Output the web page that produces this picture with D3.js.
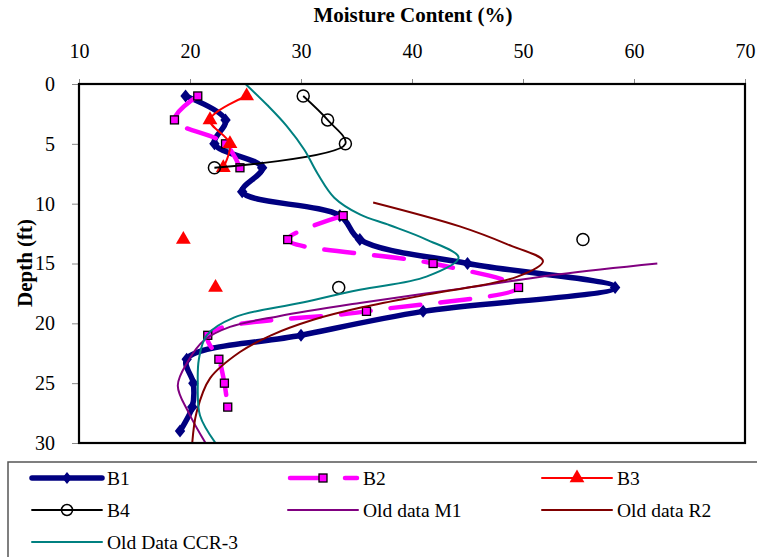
<!DOCTYPE html>
<html>
<head>
<meta charset="utf-8">
<script src="https://cdn.jsdelivr.net/npm/d3@7"></script>
<style>
  html, body { margin: 0; padding: 0; background: #fff; }
  svg { display: block; }
  text { font-family: "Liberation Serif", "Times New Roman", serif; fill: #000; }
</style>
</head>
<body>
<svg id="chart" width="757" height="557"></svg>
<script>
// Boring depths (ft) sampled every 2 ft
const depths = [1, 3, 5, 7, 9, 11, 13, 15, 17, 19, 21, 23, 25, 27, 29];

// Moisture content (%) per boring; null = no sample at that depth
const b1 = [19.6, 23.2, 22.2, 26.5, 24.7, 33.5, 35.3, 45.0, 58.3, 41.0, 30.0, 19.7, 20.3, 20.2, 19.1];
const b2 = [20.7, 18.6, 23.2, 24.5, null, 33.8, 28.8, 41.9, 49.6, 35.9, 21.6, 22.6, 23.1, 23.4, null];
const b3 = [25.1, 21.8, 23.6, 23.0, null, null, 19.4, null, 22.3, null, null, null, null, null, null];
const b4 = [30.2, 32.4, 34.0, 22.2, null, null, 55.4, null, 33.4, null, null, null, null, null, null];

// Older profiles, [moisture %, depth ft]
const oldM1 = [[62.1, 15], [53.3, 15.9], [44.4, 17.1], [35.3, 18.3], [28.0, 19.4], [23.6, 20.3],
               [21.3, 21.4], [19.8, 23.2], [18.9, 25.2], [19.9, 27.5], [21.4, 30]];
const oldR2 = [[36.5, 9.9], [44.3, 11.9], [48.6, 13.4], [51.8, 14.8], [49.5, 16.1], [41.3, 17.6],
               [35.3, 18.7], [31.1, 19.7], [27.3, 21.0], [24.5, 22.4], [21.8, 24.6], [20.6, 27.4], [20.2, 30]];
const oldCCR3 = [[25.0, 0], [27.0, 1.8], [28.7, 3.5], [30.3, 5.5], [31.5, 7.5], [33.0, 9.5], [35.3, 10.9],
                 [38.0, 11.8], [41.3, 13.0], [44.2, 14.5], [41.3, 16.1], [35.3, 17.2], [29.9, 18.3],
                 [24.0, 19.5], [21.5, 21.0], [20.8, 23.0], [20.7, 25.0], [20.9, 27.7], [22.3, 30]];

const xTicks = [10, 20, 30, 40, 50, 60, 70];
const yTicks = [0, 5, 10, 15, 20, 25, 30];

const svg = d3.select("#chart");
const plotLeft = 79, plotRight = 745, plotTop = 84, plotBottom = 443;

const x = d3.scaleLinear().domain([10, 70]).range([plotLeft, plotRight]);
const y = d3.scaleLinear().domain([0, 30]).range([plotTop, plotBottom]);

// Axes: moisture on top, depth downward on the left
const xAxis = svg.append("g").attr("transform", `translate(0,${plotTop})`)
  .call(d3.axisTop(x).tickValues(xTicks).tickSize(5).tickPadding(21).tickFormat(d3.format("d")));
xAxis.select(".domain").remove();
xAxis.selectAll("line").attr("stroke", "#888");
xAxis.selectAll("text").style("font-size", "20px").style("font-family", "Liberation Serif");

const yAxis = svg.append("g").attr("transform", `translate(${plotLeft},0)`)
  .call(d3.axisLeft(y).tickValues(yTicks).tickSize(7).tickPadding(17).tickFormat(d3.format("d")));
yAxis.select(".domain").remove();
yAxis.selectAll("line").attr("stroke", "#888");
yAxis.selectAll("text").style("font-size", "20px").style("font-family", "Liberation Serif");

const plot = svg.append("g");
plot.append("defs").append("clipPath").attr("id", "clip")
  .append("rect").attr("x", plotLeft).attr("y", plotTop)
  .attr("width", plotRight - plotLeft).attr("height", plotBottom - plotTop);
const layer = plot.append("g").attr("clip-path", "url(#clip)");

const smooth = d3.curveCatmullRom.alpha(0.5);

function series(values) {
  return depths.map((d, i) => ({ v: values[i], d }));
}

const lineB = d3.line()
  .defined(p => p.v != null)
  .x(p => x(p.v)).y(p => y(p.d)).curve(smooth);

const lineOld = d3.line().x(p => x(p[0])).y(p => y(p[1])).curve(smooth);

const diamond = (s) => `M0,${-s}L${s * 0.8},0L0,${s}L${-s * 0.8},0Z`;

// B1
const s1 = series(b1);
layer.append("path").attr("d", lineB(s1)).attr("fill", "none").attr("stroke", "#000080")
  .attr("stroke-width", 5.5).attr("stroke-linejoin", "round");
layer.selectAll(".m1").data(s1.filter(p => p.v != null)).join("path")
  .attr("d", diamond(6.5)).attr("fill", "#000080")
  .attr("transform", p => `translate(${x(p.v)},${y(p.d)})`);

// B2
const s2 = series(b2);
layer.append("path").attr("d", lineB(s2)).attr("fill", "none").attr("stroke", "#FF00FF")
  .attr("stroke-width", 4.5).attr("stroke-dasharray", "30,20").attr("stroke-linecap", "round");
layer.selectAll(".m2").data(s2.filter(p => p.v != null)).join("rect")
  .attr("x", p => x(p.v) - 4).attr("y", p => y(p.d) - 4).attr("width", 8).attr("height", 8)
  .attr("fill", "#FF00FF").attr("stroke", "#000").attr("stroke-width", 1.3);

// B3
const s3 = series(b3);
layer.append("path").attr("d", lineB(s3)).attr("fill", "none").attr("stroke", "#FF0000").attr("stroke-width", 2);
layer.selectAll(".m3").data(s3.filter(p => p.v != null)).join("path")
  .attr("d", d3.symbol(d3.symbolTriangle, 95)()).attr("fill", "#FF0000")
  .attr("transform", p => `translate(${x(p.v)},${y(p.d)})`);

// B4
const s4 = series(b4);
layer.append("path").attr("d", lineB(s4)).attr("fill", "none").attr("stroke", "#000").attr("stroke-width", 1.8);
layer.selectAll(".m4").data(s4.filter(p => p.v != null)).join("circle")
  .attr("cx", p => x(p.v)).attr("cy", p => y(p.d)).attr("r", 6)
  .attr("fill", "none").attr("stroke", "#000").attr("stroke-width", 1.5);

// Older profiles
layer.append("path").attr("d", lineOld(oldM1)).attr("fill", "none").attr("stroke", "#800080").attr("stroke-width", 2);
layer.append("path").attr("d", lineOld(oldR2)).attr("fill", "none").attr("stroke", "#800000").attr("stroke-width", 2);
layer.append("path").attr("d", lineOld(oldCCR3)).attr("fill", "none").attr("stroke", "#008080").attr("stroke-width", 2);

// Plot frame
svg.append("rect").attr("x", plotLeft).attr("y", plotTop)
  .attr("width", plotRight - plotLeft).attr("height", plotBottom - plotTop)
  .attr("fill", "none").attr("stroke", "#000").attr("stroke-width", 2.2);

// Axis titles
svg.append("text").attr("x", 413).attr("y", 22).attr("text-anchor", "middle")
  .style("font-size", "21px").style("font-weight", "bold").text("Moisture Content (%)");
svg.append("text").attr("transform", "translate(32,263) rotate(-90)").attr("text-anchor", "middle")
  .style("font-size", "21px").style("font-weight", "bold").text("Depth (ft)");

// Legend
const legend = svg.append("g");
legend.append("rect").attr("x", 8).attr("y", 462).attr("width", 760).attr("height", 110)
  .attr("fill", "#fff").attr("stroke", "#555").attr("stroke-width", 1.5);

const legendItems = [
  { name: "B1", col: 0, row: 0, color: "#000080", w: 5.5, marker: "diamond" },
  { name: "B2", col: 1, row: 0, color: "#FF00FF", w: 4.5, marker: "square", dash: true },
  { name: "B3", col: 2, row: 0, color: "#FF0000", w: 2, marker: "triangle" },
  { name: "B4", col: 0, row: 1, color: "#000", w: 1.8, marker: "circle" },
  { name: "Old data M1", col: 1, row: 1, color: "#800080", w: 2 },
  { name: "Old data R2", col: 2, row: 1, color: "#800000", w: 2 },
  { name: "Old Data CCR-3", col: 0, row: 2, color: "#008080", w: 2 }
];
const colX = [32, 288, 542], rowY = [478, 510, 542];

legendItems.forEach(it => {
  const x0 = colX[it.col], yy = rowY[it.row], x1 = x0 + 70, xm = x0 + 35;
  const g = legend.append("g");
  if (it.dash) {
    g.append("line").attr("x1", x0 + 2).attr("x2", x0 + 32).attr("y1", yy).attr("y2", yy)
      .attr("stroke", it.color).attr("stroke-width", it.w).attr("stroke-linecap", "round");
    g.append("line").attr("x1", x0 + 57).attr("x2", x1 - 1).attr("y1", yy).attr("y2", yy)
      .attr("stroke", it.color).attr("stroke-width", it.w).attr("stroke-linecap", "round");
  } else {
    g.append("line").attr("x1", x0).attr("x2", x1).attr("y1", yy).attr("y2", yy)
      .attr("stroke", it.color).attr("stroke-width", it.w).attr("stroke-linecap", "round");
  }
  if (it.marker === "diamond") {
    g.append("path").attr("d", diamond(6)).attr("fill", it.color).attr("transform", `translate(${xm},${yy})`);
  } else if (it.marker === "square") {
    g.append("rect").attr("x", xm - 4).attr("y", yy - 4).attr("width", 8).attr("height", 8)
      .attr("fill", it.color).attr("stroke", "#000").attr("stroke-width", 1.3);
  } else if (it.marker === "triangle") {
    g.append("path").attr("d", d3.symbol(d3.symbolTriangle, 95)()).attr("fill", it.color)
      .attr("transform", `translate(${xm},${yy})`);
  } else if (it.marker === "circle") {
    g.append("circle").attr("cx", xm).attr("cy", yy).attr("r", 5.5)
      .attr("fill", "none").attr("stroke", "#000").attr("stroke-width", 1.5);
  }
  g.append("text").attr("x", x1 + 5).attr("y", yy).attr("dy", "0.35em")
    .style("font-size", "19.5px").text(it.name);
});
</script>
</body>
</html>
